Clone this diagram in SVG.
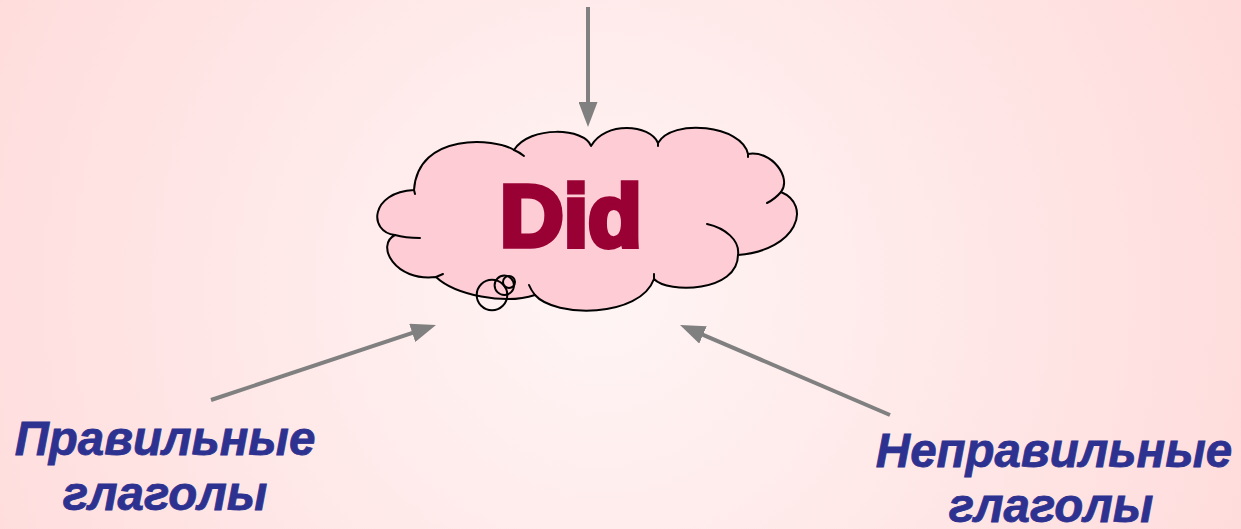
<svg xmlns="http://www.w3.org/2000/svg" width="1241" height="529" viewBox="0 0 1241 529">
<defs>
<radialGradient id="bg" cx="600" cy="290" r="760" gradientUnits="userSpaceOnUse">
<stop offset="0" stop-color="#FFF5F5"/>
<stop offset="1" stop-color="#FFD9D9"/>
</radialGradient>
<marker id="arrow" markerUnits="userSpaceOnUse" markerWidth="25" markerHeight="19" refX="5" refY="9.5" orient="auto">
<path d="M0,0 L25,9.5 L0,19 Z" fill="#808080"/>
</marker>
</defs>
<style>
.conn{stroke:#808080;stroke-width:4;fill:none;marker-end:url(#arrow)}
.cloud{fill:#FDCCD4;stroke:#000;stroke-width:2;stroke-linejoin:round}
.tick{fill:none;stroke:#000;stroke-width:2;stroke-linecap:round}
.label{font-family:"Liberation Sans",Arial,sans-serif;font-weight:bold;font-style:italic;font-size:47.5px;fill:#2D318F;stroke:#2D318F;stroke-width:0.8;text-anchor:middle}
.did{font-family:"Liberation Sans",Arial,sans-serif;font-weight:bold;font-size:88px;fill:#990033;stroke:#990033;stroke-width:5.5;stroke-linejoin:miter;text-anchor:middle}
</style>
<rect width="1241" height="529" fill="url(#bg)"/>
<g id="connectors">
<line class="conn" x1="588" y1="7" x2="588" y2="107"/>
<line class="conn" x1="211" y1="400" x2="417" y2="331.3"/>
<line class="conn" x1="890" y1="415" x2="698.4" y2="332.9"/>
</g>
<g id="cloud">
<path class="cloud" d="M414,190 C370,192 368,232 395,235 C375,245 395,282 436,277 C455,295 505,305 535,295 C555,318 640,318 654,279 C668,294 738,292 738,255 C798,250 812,205 781,192 C792,178 772,150 748,154 C742,125 672,118 658,143 C650,124 605,121 591,146 C585,128 530,125 514,150 C495,138 418,132 414,190 Z"/>
<path class="tick" d="M514,150 Q519,152 524,156"/>
<path class="tick" d="M414,190 L415,194"/>
<path class="tick" d="M781,192 Q775,199 767,203"/>
<path class="tick" d="M738,255 C740,240 725,228 707,224"/>
<path class="tick" d="M654,279 L654,274"/>
<path class="tick" d="M535,295 Q531,290 529,285"/>
<path class="tick" d="M436,277 L443,274"/>
<path class="tick" d="M395,235 Q405,238 420,238"/>
<path class="tick" d="M748,154 L748,157"/>
<path class="tick" d="M658,143 L658,146"/>
<circle cx="492" cy="295" r="15.3" fill="none" stroke="#000" stroke-width="2"/>
<circle cx="504.3" cy="285.3" r="9.7" fill="none" stroke="#000" stroke-width="2"/>
<circle cx="509" cy="282" r="6" fill="none" stroke="#000" stroke-width="2"/>
<text class="did" x="571" y="246">Did</text>
</g>
<g id="regular">
<text class="label" x="165" y="455">Правильные</text>
<text class="label" x="165" y="510">глаголы</text>
</g>
<g id="irregular">
<text class="label" x="1054" y="467">Неправильные</text>
<text class="label" x="1051" y="522">глаголы</text>
</g>
</svg>
